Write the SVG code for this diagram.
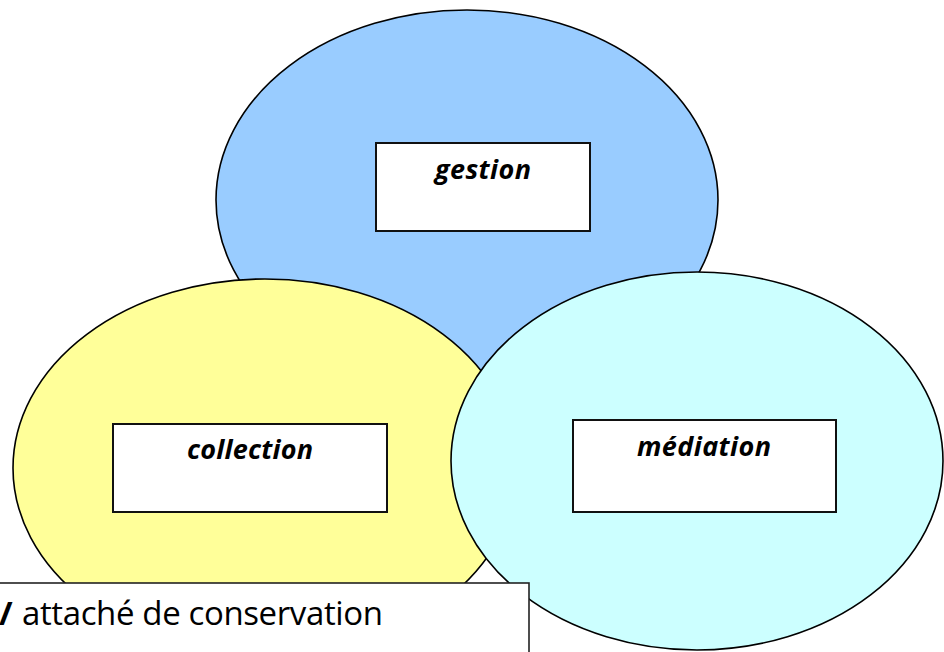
<svg xmlns="http://www.w3.org/2000/svg" width="944" height="652" viewBox="0 0 944 652">
  <style>
    .ell { stroke: #000; stroke-width: 1.6; }
    .box { fill: #fff; stroke: #111; stroke-width: 2; }
    .lbl { font-family: "Open Sans", "Liberation Sans", sans-serif; font-weight: 700; font-style: italic; font-size: 27px; fill: #000; text-anchor: middle; }
    .note { font-family: "Open Sans", "Liberation Sans", sans-serif; font-size: 33px; fill: #000; }
  </style>
  <rect x="0" y="0" width="944" height="652" fill="#fff"/>
  <g id="gestion">
    <ellipse class="ell" cx="467" cy="200" rx="251" ry="190" fill="#99CCFF"/>
  </g>
  <g id="collection">
    <ellipse class="ell" cx="265" cy="468" rx="252" ry="189" fill="#FFFF99"/>
  </g>
  <g id="mediation">
    <ellipse class="ell" cx="697" cy="461" rx="246" ry="189" fill="#CCFFFF"/>
  </g>
  <g id="gestion-label">
    <rect class="box" x="376" y="143" width="214" height="88"/>
    <text class="lbl" x="483" y="179" textLength="96">gestion</text>
  </g>
  <g id="collection-label">
    <rect class="box" x="113" y="424" width="274" height="88"/>
    <text class="lbl" x="250" y="459" textLength="126">collection</text>
  </g>
  <g id="mediation-label">
    <rect class="box" x="573" y="420" width="263" height="92"/>
    <text class="lbl" x="704" y="456" textLength="134">médiation</text>
  </g>
  <g id="note">
    <rect x="-4" y="583" width="533" height="80" fill="#fff" stroke="#222" stroke-width="1.6"/>
    <text class="note" y="625"><tspan x="-1" font-weight="700">/</tspan><tspan x="22" textLength="361">attaché de conservation</tspan></text>
  </g>
  <g id="connectors"></g>
</svg>
